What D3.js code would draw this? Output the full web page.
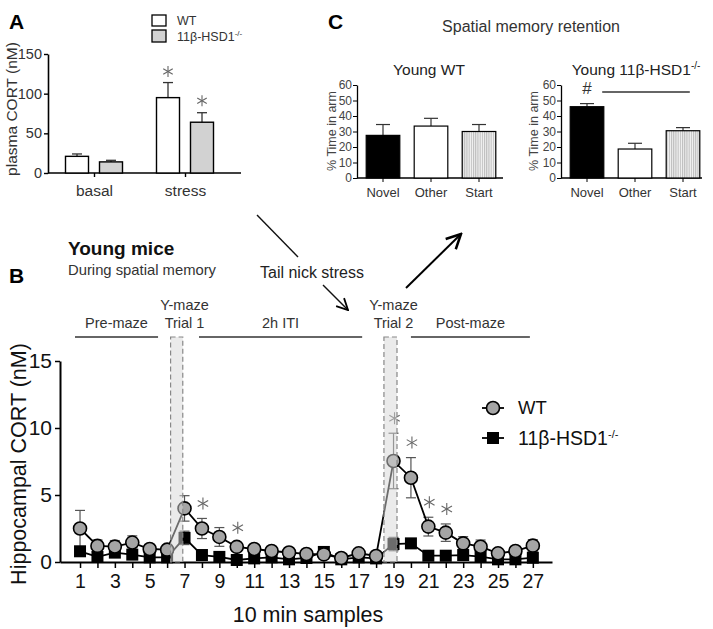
<!DOCTYPE html>
<html><head><meta charset="utf-8">
<script src="https://cdn.jsdelivr.net/npm/d3@7"></script>
<style>
body{margin:0;background:#fff}
text{font-family:"Liberation Sans",Arial,Helvetica,sans-serif}
</style>
</head><body>
<svg id="c" width="713" height="629"></svg>
<script>
// ---------- Panel A data ----------
const aGroups = ["basal", "stress"];
const aWT = [21, 95];
const aWTerr = [3, 19];
const aKO = [14, 64];
const aKOerr = [2, 12];
const aTicks = [0, 50, 100, 150];
const aStarGroups = ["stress"];

// ---------- Panel C data ----------
const cArms = ["Novel", "Other", "Start"];
const cWT = [27.5, 33.5, 30];
const cWTerr = [7, 5, 4.5];
const cKO = [46, 18.7, 30.5];
const cKOerr = [2, 3.7, 2];
const cTicks = [0, 10, 20, 30, 40, 50, 60];

// ---------- Panel B data ----------
const samples = [1,2,3,4,5,6,7,8,9,10,11,12,13,14,15,16,17,18,19,20,21,22,23,24,25,26,27];
const wtCort = [2.5,1.2,1.15,1.45,0.97,0.92,4.0,2.5,1.87,1.13,0.97,0.82,0.71,0.6,0.57,0.3,0.65,0.45,7.54,6.29,2.64,2.19,1.39,1.14,0.65,0.82,1.22];
const wtErr  = [1.35,0.45,0.45,0.5,0.3,0.3,0.95,0.75,0.7,0.3,0.25,0.2,0.2,0.15,0.15,0.15,0.2,0.15,2.07,1.5,0.7,0.65,0.5,0.5,0.2,0.2,0.45];
const koCort = [0.8,0.38,0.7,0.55,0.35,0.35,1.8,0.52,0.38,0.15,0.27,0.35,0.2,0.3,0.75,0.2,0.35,0.27,1.34,1.39,0.47,0.47,0.52,0.4,0.2,0.2,0.32];
const koErr  = [0.2,0.15,0.2,0.15,0.1,0.1,0.5,0.15,0.1,0.1,0.1,0.1,0.1,0.1,0.15,0.1,0.1,0.1,0.5,0.35,0.1,0.1,0.15,0.1,0.1,0.1,0.1];
const starSamples = [8, 10, 19, 20, 21, 22];
const bTicksY = [0, 5, 10, 15];
const trialStart = [6.2, 18.45];
const trialEnd = [6.9, 19.2];
const trialLabelAt = [7, 19];
const trialNames = ["Trial 1", "Trial 2"];
const phases = ["Pre-maze", "2h ITI", "Post-maze"];
const phaseFrom = [0.71, 7.83, 20.0];
const phaseTo = [5.48, 17.2, 26.83];

const svg = d3.select("#c");
svg.append("rect").attr("width",713).attr("height",629).attr("fill","#fff");

const defs = svg.append("defs");
const pat = defs.append("pattern").attr("id","vstripe").attr("patternUnits","userSpaceOnUse")
  .attr("width",2.2).attr("height",10);
pat.append("rect").attr("width",2.2).attr("height",10).attr("fill","#f4f4f4");
pat.append("line").attr("x1",0.6).attr("x2",0.6).attr("y1",0).attr("y2",10).attr("stroke","#a8a8a8").attr("stroke-width",0.8);

function mk(id, size, w) {
  defs.append("marker").attr("id",id).attr("viewBox","0 0 10 10").attr("refX",9).attr("refY",5)
    .attr("markerWidth",size).attr("markerHeight",size).attr("orient","auto").attr("markerUnits","userSpaceOnUse")
    .append("path").attr("d","M1,1 L9,5 L1,9").attr("fill","none").attr("stroke","#000").attr("stroke-width",w);
}
mk("arr1", 14, 1.3);
mk("arr2", 18, 1.4);

function superLabel(sel, base, sup, supSize) {
  sel.append("tspan").text(base);
  sel.append("tspan").attr("dy", -supSize*0.6).attr("font-size", supSize).text(sup);
}
// six-armed asterisk
function star(g, cx, cy, r, color) {
  const s = g.append("g").attr("transform",`translate(${cx},${cy})`);
  [90, 30, -30].forEach(a => {
    const rad = a*Math.PI/180;
    s.append("line").attr("x1",-r*Math.cos(rad)).attr("y1",-r*Math.sin(rad))
      .attr("x2",r*Math.cos(rad)).attr("y2",r*Math.sin(rad))
      .attr("stroke",color).attr("stroke-width",1.1);
  });
}

// ================= Panel A =================
const gA = svg.append("g");
const yA = d3.scaleLinear().domain([0,150]).range([173,54]);
const xA = d3.scalePoint().domain(aGroups).range([94,185]);
const bwA = 23;

const axA = gA.append("g").attr("transform","translate(48,0)")
  .call(d3.axisLeft(yA).tickValues(aTicks).tickSize(4).tickSizeOuter(0).tickPadding(2));
axA.select(".domain").attr("stroke","#000").attr("stroke-width",1.6);
axA.selectAll(".tick line").attr("stroke","#000").attr("stroke-width",1.4);
axA.selectAll(".tick text").attr("font-size",14.5).attr("fill","#333").attr("font-family","Liberation Sans, Arial");

const axAx = gA.append("g").attr("transform","translate(0,173)")
  .call(d3.axisBottom(xA).tickSize(4).tickSizeOuter(0).tickPadding(4));
axAx.select(".domain").attr("d","M48,0H241").attr("stroke","#000").attr("stroke-width",1.6);
axAx.selectAll(".tick line").attr("stroke","#000").attr("stroke-width",1.4);
axAx.selectAll(".tick text").attr("font-size",15.5).attr("fill","#333").attr("dy","0.95em").attr("font-family","Liberation Sans, Arial");

function barsA(vals, errs, dx, fill) {
  aGroups.forEach((g,i) => {
    const x = xA(g) + dx;
    gA.append("line").attr("x1",x+bwA/2).attr("x2",x+bwA/2).attr("y1",yA(vals[i])).attr("y2",yA(vals[i]+errs[i]))
      .attr("stroke","#333").attr("stroke-width",1.3);
    gA.append("line").attr("x1",x+bwA/2-5).attr("x2",x+bwA/2+5).attr("y1",yA(vals[i]+errs[i])).attr("y2",yA(vals[i]+errs[i]))
      .attr("stroke","#333").attr("stroke-width",1.3);
    gA.append("rect").attr("x",x).attr("y",yA(vals[i])).attr("width",bwA).attr("height",yA(0)-yA(vals[i]))
      .attr("fill",fill).attr("stroke","#000").attr("stroke-width",1.4);
  });
}
barsA(aWT, aWTerr, -28.5, "#fff");
barsA(aKO, aKOerr, 5.5, "#d2d2d2");
aStarGroups.forEach(g => {
  const i = aGroups.indexOf(g);
  star(gA, xA(g)-17, yA(aWT[i]+aWTerr[i])-11, 5.5, "#666");
  star(gA, xA(g)+17, yA(aKO[i]+aKOerr[i])-12, 5.5, "#666");
});
gA.append("text").attr("transform","translate(17,109) rotate(-90)").attr("text-anchor","middle")
  .attr("font-size",15.5).attr("fill","#333").text("plasma CORT (nM)");
gA.append("text").attr("x",9).attr("y",29).attr("font-size",21).attr("font-weight","bold").text("A");
// legend A
gA.append("rect").attr("x",152).attr("y",15).attr("width",14).attr("height",11).attr("fill","#fff").attr("stroke","#000").attr("stroke-width",1.3);
gA.append("rect").attr("x",152).attr("y",30).attr("width",14).attr("height",12).attr("fill","#d2d2d2").attr("stroke","#000").attr("stroke-width",1.3);
gA.append("text").attr("x",177).attr("y",25).attr("font-size",12.5).attr("fill","#333").text("WT");
superLabel(gA.append("text").attr("x",177).attr("y",41).attr("font-size",12.5).attr("fill","#333"), "11β-HSD1", "-/-", 8);

// ================= Panel C =================
const gC = svg.append("g");
svg.append("text").attr("x",328).attr("y",29).attr("font-size",21).attr("font-weight","bold").text("C");
svg.append("text").attr("x",531).attr("y",32).attr("text-anchor","middle").attr("font-size",16).attr("fill","#333").text("Spatial memory retention");
const yC = d3.scaleLinear().domain([0,60]).range([178,85]);

function panelC(x0, x1, vals, errs, titleX, title, sup, yTitleX) {
  const xC = d3.scaleBand().domain(cArms).range([x0+2, x0+146]).paddingInner(0.3).paddingOuter(0.15);
  const ay = gC.append("g").attr("transform",`translate(${x0},0)`)
    .call(d3.axisLeft(yC).tickValues(cTicks).tickSize(4).tickSizeOuter(0).tickPadding(1));
  ay.select(".domain").attr("stroke","#000").attr("stroke-width",1.3);
  ay.selectAll(".tick line").attr("stroke","#000");
  ay.selectAll(".tick text").attr("font-size",12).attr("fill","#444").attr("font-family","Liberation Sans, Arial");
  const ax = gC.append("g").attr("transform","translate(0,178)")
    .call(d3.axisBottom(xC).tickSize(4).tickSizeOuter(0).tickPadding(3));
  ax.select(".domain").attr("d",`M${x0},0H${x1}`).attr("stroke","#000").attr("stroke-width",1.3);
  ax.selectAll(".tick line").attr("stroke","#000");
  ax.selectAll(".tick text").attr("font-size",13).attr("fill","#333").attr("dy","0.9em").attr("font-family","Liberation Sans, Arial");
  const fills = ["#000", "#fff", "url(#vstripe)"];
  cArms.forEach((a,i) => {
    const cx = xC(a) + xC.bandwidth()/2;
    gC.append("line").attr("x1",cx).attr("x2",cx).attr("y1",yC(vals[i])).attr("y2",yC(vals[i]+errs[i])).attr("stroke","#333").attr("stroke-width",1.2);
    gC.append("line").attr("x1",cx-7).attr("x2",cx+7).attr("y1",yC(vals[i]+errs[i])).attr("y2",yC(vals[i]+errs[i])).attr("stroke","#333").attr("stroke-width",1.2);
    gC.append("rect").attr("x",xC(a)).attr("y",yC(vals[i])).attr("width",xC.bandwidth()).attr("height",yC(0)-yC(vals[i]))
      .attr("fill",fills[i]).attr("stroke","#000").attr("stroke-width",1.2);
  });
  const t = gC.append("text").attr("x",titleX).attr("y",75).attr("text-anchor","middle").attr("font-size",15.5).attr("fill","#222");
  if (sup) superLabel(t, title, sup, 10); else t.text(title);
  gC.append("text").attr("transform",`translate(${yTitleX},131) rotate(-90)`).attr("text-anchor","middle")
    .attr("font-size",12.5).attr("fill","#444").text("% Time in arm");
  return xC;
}
panelC(357, 503, cWT, cWTerr, 429, "Young WT", null, 336);
const xCR = panelC(561, 702, cKO, cKOerr, 636, "Young 11β-HSD1", "-/-", 538);
const novX = xCR("Novel") + xCR.bandwidth()/2;
gC.append("text").attr("x",novX).attr("y",94).attr("text-anchor","middle").attr("font-size",17).attr("fill","#333").text("#");
gC.append("line").attr("x1",xCR("Other")-16).attr("x2",xCR("Start")+xCR.bandwidth()-10).attr("y1",92).attr("y2",92).attr("stroke","#333").attr("stroke-width",1.4);

// ================= Arrows / annotation =================
svg.append("line").attr("x1",257).attr("y1",215).attr("x2",298).attr("y2",257).attr("stroke","#111").attr("stroke-width",1.4);
svg.append("line").attr("x1",323).attr("y1",285).attr("x2",348).attr("y2",310).attr("stroke","#111").attr("stroke-width",1.4).attr("marker-end","url(#arr1)");
svg.append("text").attr("x",312).attr("y",278).attr("text-anchor","middle").attr("font-size",16).attr("fill","#222").text("Tail nick stress");
svg.append("line").attr("x1",406).attr("y1",288).attr("x2",461).attr("y2",234).attr("stroke","#000").attr("stroke-width",2).attr("marker-end","url(#arr2)");

// ================= Panel B =================
const gB = svg.append("g");
gB.append("text").attr("x",9).attr("y",283).attr("font-size",21).attr("font-weight","bold").text("B");
gB.append("text").attr("x",68).attr("y",255).attr("font-size",19).attr("font-weight","bold").attr("fill","#111").text("Young mice");
gB.append("text").attr("x",68).attr("y",275).attr("font-size",14.8).attr("fill","#333").text("During spatial memory");

const bx = d3.scaleLinear().domain([-0.15, 28.1]).range([60, 552]);
const by = d3.scaleLinear().domain([0, 15]).range([562, 361]);

phases.forEach((p,i) => {
  gB.append("line").attr("x1",bx(phaseFrom[i])).attr("x2",bx(phaseTo[i])).attr("y1",337).attr("y2",337).attr("stroke","#333").attr("stroke-width",1.5);
  gB.append("text").attr("x",(bx(phaseFrom[i])+bx(phaseTo[i]))/2).attr("y",328).attr("text-anchor","middle").attr("font-size",14.5).attr("fill","#333").text(p);
});
trialLabelAt.forEach((s,i) => {
  gB.append("text").attr("x",bx(s)).attr("y",310).attr("text-anchor","middle").attr("font-size",14.5).attr("fill","#333").text("Y-maze");
  gB.append("text").attr("x",bx(s)).attr("y",328).attr("text-anchor","middle").attr("font-size",14.5).attr("fill","#333").text(trialNames[i]);
});

const axBx = gB.append("g").attr("transform","translate(0,562)")
  .call(d3.axisBottom(bx).tickValues(samples).tickSize(6).tickSizeOuter(0).tickPadding(6).tickFormat(d => d % 2 ? d : ""));
axBx.select(".domain").attr("stroke","#000").attr("stroke-width",2);
axBx.selectAll(".tick line").attr("stroke","#000").attr("stroke-width",1.5);
axBx.selectAll(".tick text").attr("font-size",19.5).attr("fill","#111").attr("font-family","Liberation Sans, Arial");
const axBy = gB.append("g").attr("transform","translate(60,0)")
  .call(d3.axisLeft(by).tickValues(bTicksY).tickSize(5).tickSizeOuter(0).tickPadding(3));
axBy.select(".domain").attr("stroke","#000").attr("stroke-width",2);
axBy.selectAll(".tick line").attr("stroke","#000").attr("stroke-width",1.5);
axBy.selectAll(".tick text").attr("font-size",21).attr("fill","#111").attr("font-family","Liberation Sans, Arial");
gB.append("text").attr("transform","translate(26,464) rotate(-90)").attr("text-anchor","middle")
  .attr("font-size",21.5).attr("fill","#111").text("Hippocampal CORT (nM)");
gB.append("text").attr("x",308).attr("y",622).attr("text-anchor","middle").attr("font-size",21.5).attr("fill","#111").text("10 min samples");

function errBars(vals, errs) {
  samples.forEach((s,i) => {
    const x = bx(s);
    gB.append("line").attr("x1",x).attr("x2",x).attr("y1",by(Math.max(0,vals[i]-errs[i]))).attr("y2",by(vals[i]+errs[i])).attr("stroke","#555").attr("stroke-width",1.2);
    [vals[i]+errs[i], Math.max(0,vals[i]-errs[i])].forEach(v => {
      gB.append("line").attr("x1",x-5).attr("x2",x+5).attr("y1",by(v)).attr("y2",by(v)).attr("stroke","#555").attr("stroke-width",1.2);
    });
  });
}
errBars(koCort, koErr);
errBars(wtCort, wtErr);
const line = d3.line().x((d,i) => bx(samples[i])).y(d => by(d));
gB.append("path").datum(koCort).attr("d",line).attr("fill","none").attr("stroke","#000").attr("stroke-width",1.8);
gB.selectAll(".ko").data(koCort).enter().append("rect")
  .attr("x",(d,i) => bx(samples[i])-6).attr("y",d => by(d)-6).attr("width",12).attr("height",12).attr("fill","#000");
gB.append("path").datum(wtCort).attr("d",line).attr("fill","none").attr("stroke","#000").attr("stroke-width",1.8);
gB.selectAll(".wt").data(wtCort).enter().append("circle")
  .attr("cx",(d,i) => bx(samples[i])).attr("cy",d => by(d)).attr("r",6.5).attr("fill","#a5a5a5").attr("stroke","#000").attr("stroke-width",1.6);
starSamples.forEach(s => {
  const i = samples.indexOf(s);
  star(gB, bx(s)+1, by(wtCort[i]+wtErr[i])-15, 6, "#666");
});

trialStart.forEach((t,i) => {
  gB.append("rect").attr("x",bx(t)).attr("y",337).attr("width",bx(trialEnd[i])-bx(t)).attr("height",by(0)-337)
    .attr("fill","rgb(215,215,215)").attr("fill-opacity",0.5).attr("stroke","#888").attr("stroke-width",1.2).attr("stroke-dasharray","5,3");
});

// legend B
const lgY = [408, 438];
gB.append("line").attr("x1",482).attr("x2",504).attr("y1",lgY[0]).attr("y2",lgY[0]).attr("stroke","#000").attr("stroke-width",1.8);
gB.append("circle").attr("cx",493).attr("cy",lgY[0]).attr("r",6.5).attr("fill","#a5a5a5").attr("stroke","#000").attr("stroke-width",1.6);
gB.append("line").attr("x1",482).attr("x2",504).attr("y1",lgY[1]).attr("y2",lgY[1]).attr("stroke","#000").attr("stroke-width",1.8);
gB.append("rect").attr("x",487).attr("y",lgY[1]-6).attr("width",12).attr("height",12).attr("fill","#000");
gB.append("text").attr("x",518).attr("y",lgY[0]+6).attr("font-size",18.5).attr("fill","#111").text("WT");
superLabel(gB.append("text").attr("x",518).attr("y",lgY[1]+7).attr("font-size",19.5).attr("fill","#111"), "11β-HSD1", "-/-", 11);
</script>
</body></html>
